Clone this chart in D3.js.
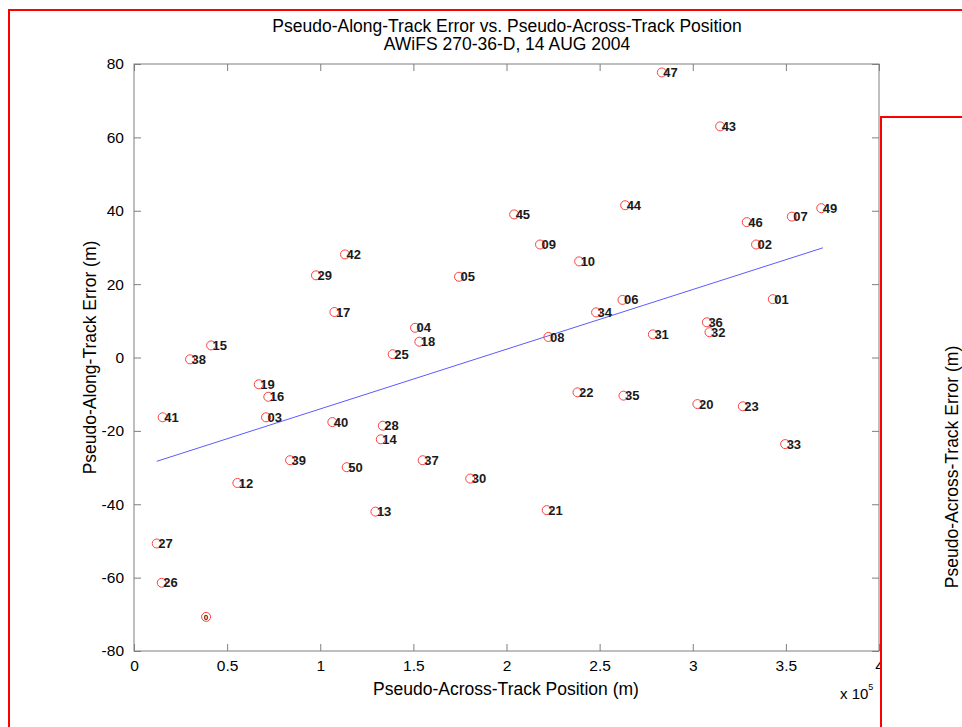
<!DOCTYPE html>
<html>
<head>
<meta charset="utf-8">
<script src="https://cdn.jsdelivr.net/npm/d3@7"></script>
<style>
  body { margin: 0; background: #fff; }
  text { font-family: 'Liberation Sans', Arial, sans-serif; }
</style>
</head>
<body>
<svg id="chart"></svg>
<script>
// point ids, across-track position (x 10^5 m) and along-track error (m)
const pointIds = ['0', '01', '02', '03', '04', '05', '06', '07', '08', '09', '10',
  '12', '13', '14', '15', '16', '17', '18', '19', '20', '21', '22', '23', '25',
  '26', '27', '28', '29', '30', '31', '32', '33', '34', '35', '36', '37', '38',
  '39', '40', '41', '42', '43', '44', '45', '46', '47', '49', '50'];
const acrossPos = [0.387, 3.430, 3.340, 0.709, 1.509, 1.745, 2.623, 3.532, 2.225, 2.180, 2.390,
  0.555, 1.296, 1.325, 0.414, 0.721, 1.076, 1.532, 0.670, 3.025, 2.216, 2.381, 3.269, 1.389,
  0.149, 0.122, 1.336, 0.977, 1.805, 2.786, 3.090, 3.496, 2.481, 2.628, 3.076, 1.550, 0.301,
  0.838, 1.065, 0.154, 1.133, 3.147, 2.637, 2.041, 3.290, 2.834, 3.690, 1.142];
const alongErr = [-70.7, 15.9, 30.8, -16.3, 8.1, 22.0, 15.7, 38.4, 5.6, 30.8, 26.2,
  -34.2, -42.0, -22.3, 3.3, -10.7, 12.4, 4.3, -7.3, -12.7, -41.6, -9.5, -13.3, 0.9,
  -61.4, -50.7, -18.6, 22.4, -33.0, 6.3, 6.9, -23.6, 12.3, -10.4, 9.6, -28.0, -0.5,
  -28.0, -17.6, -16.3, 28.1, 63.0, 41.5, 39.0, 36.9, 77.7, 40.7, -29.9];

// linear fit endpoints
const fitX = [0.122, 3.699];
const fitY = [-28.3, 29.9];

const xTicks = [0, 0.5, 1, 1.5, 2, 2.5, 3, 3.5, 4];
const yTicks = [-80, -60, -40, -20, 0, 20, 40, 60, 80];

const width = 962;
const height = 727;
const plot = { left: 134, top: 64, right: 879, bottom: 651 };
const axisColor = '#7f7f7f';
const labelSize = '17.5px';

const svg = d3.select('#chart')
  .attr('width', width)
  .attr('height', height);

const xScale = d3.scaleLinear().domain([0, 4]).range([plot.left, plot.right]);
const yScale = d3.scaleLinear().domain([-80, 80]).range([plot.bottom, plot.top]);

// red frame around the figure panel
svg.append('rect')
  .attr('x', 9).attr('y', 10)
  .attr('width', 1000).attr('height', 800)
  .attr('fill', 'none').attr('stroke', '#ff0000').attr('stroke-width', 2);

// titles
svg.append('text')
  .attr('x', 507).attr('y', 31.5)
  .attr('text-anchor', 'middle')
  .style('font-size', labelSize)
  .text('Pseudo-Along-Track Error vs. Pseudo-Across-Track Position');
svg.append('text')
  .attr('x', 507).attr('y', 49.5)
  .attr('text-anchor', 'middle')
  .style('font-size', labelSize)
  .text('AWiFS 270-36-D, 14 AUG 2004');

// axes, ticks inward on all four sides
const tickLen = 7;
const g = svg.append('g');

g.append('rect')
  .attr('x', plot.left).attr('y', plot.top)
  .attr('width', plot.right - plot.left).attr('height', plot.bottom - plot.top)
  .attr('fill', 'none').attr('stroke', axisColor).attr('stroke-width', 1);

const bottomAxis = d3.axisBottom(xScale).tickValues(xTicks).tickSize(-tickLen)
  .tickFormat(d => String(d)).tickPadding(9);
const leftAxis = d3.axisLeft(yScale).tickValues(yTicks).tickSize(-tickLen)
  .tickFormat(d => String(d)).tickPadding(10);
const topAxis = d3.axisTop(xScale).tickValues(xTicks).tickSize(-tickLen).tickFormat('');
const rightAxis = d3.axisRight(yScale).tickValues(yTicks).tickSize(-tickLen).tickFormat('');

[
  [bottomAxis, `translate(0,${plot.bottom})`],
  [leftAxis, `translate(${plot.left},0)`],
  [topAxis, `translate(0,${plot.top})`],
  [rightAxis, `translate(${plot.right},0)`]
].forEach(([ax, tr]) => {
  const a = g.append('g').attr('transform', tr).call(ax);
  a.select('.domain').remove();
  a.selectAll('line').attr('stroke', axisColor);
  a.selectAll('text')
    .attr('fill', '#000')
    .style('font-size', '15.5px')
    .style('font-family', "'Liberation Sans', Arial, sans-serif");
});

// axis labels
svg.append('text')
  .attr('x', 506).attr('y', 695)
  .attr('text-anchor', 'middle')
  .style('font-size', labelSize)
  .text('Pseudo-Across-Track Position (m)');

svg.append('text')
  .attr('transform', `translate(96,${(plot.top + plot.bottom) / 2}) rotate(-90)`)
  .attr('text-anchor', 'middle')
  .style('font-size', labelSize)
  .text('Pseudo-Along-Track Error (m)');

const expo = svg.append('text')
  .attr('x', 840).attr('y', 699)
  .style('font-size', '15px');
expo.append('tspan').text('x 10');
expo.append('tspan').attr('dy', -9).style('font-size', '9px').text('5');

// fit line
const pts = fitX.map((x, i) => [x, fitY[i]]);
svg.append('path')
  .datum(pts)
  .attr('d', d3.line().x(d => xScale(d[0])).y(d => yScale(d[1])))
  .attr('fill', 'none')
  .attr('stroke', '#5b5bff')
  .attr('stroke-width', 1);

// points
const data = pointIds.map((id, i) => ({ id, x: acrossPos[i], y: alongErr[i] }));

svg.selectAll('circle.pt')
  .data(data)
  .enter()
  .append('circle')
  .attr('class', 'pt')
  .attr('cx', d => xScale(d.x))
  .attr('cy', d => yScale(d.y))
  .attr('r', 4.5)
  .attr('fill', 'none')
  .attr('stroke', '#ff4040')
  .attr('stroke-width', 1);

svg.selectAll('text.lbl')
  .data(data)
  .enter()
  .append('text')
  .attr('class', 'lbl')
  .attr('x', d => d.id === '0' ? xScale(d.x) : xScale(d.x) + 1.5)
  .attr('y', d => yScale(d.y))
  .attr('dy', '.35em')
  .attr('text-anchor', d => d.id === '0' ? 'middle' : 'start')
  .style('font-size', d => d.id === '0' ? '8px' : '13px')
  .style('font-weight', 'bold')
  .attr('fill', '#1a1a1a')
  .text(d => d.id);

// second panel peeking in on the right
svg.append('rect')
  .attr('x', 881).attr('y', 117)
  .attr('width', 200).attr('height', 700)
  .attr('fill', '#fff').attr('stroke', '#ff0000').attr('stroke-width', 2);

svg.append('text')
  .attr('transform', 'translate(958,467) rotate(-90)')
  .attr('text-anchor', 'middle')
  .style('font-size', labelSize)
  .text('Pseudo-Across-Track Error (m)');
</script>
</body>
</html>
